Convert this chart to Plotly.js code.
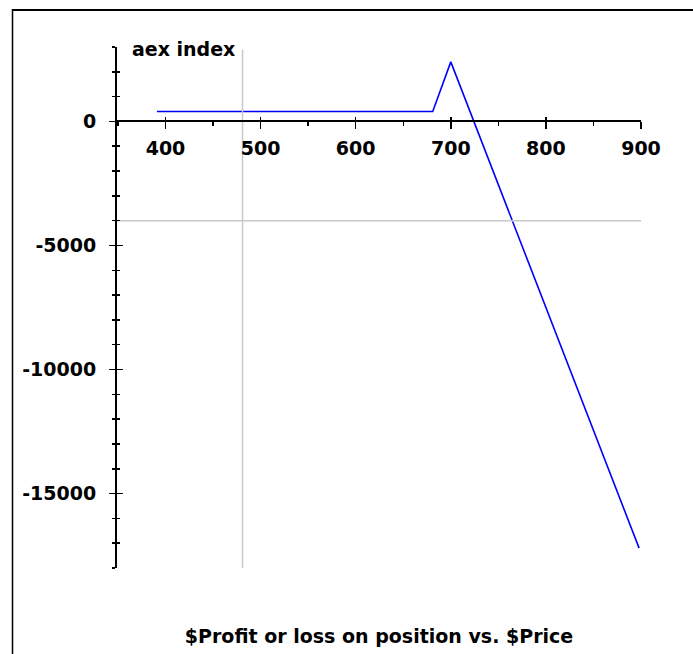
<!DOCTYPE html>
<html>
<head>
<meta charset="utf-8">
<script src="https://cdn.plot.ly/plotly-3.0.1.min.js"></script>
<style>
  html, body { margin: 0; padding: 0; background: #ffffff; }
  #chart { width: 693px; height: 654px; }
</style>
</head>
<body>
<div id="chart"></div>
<script>
// ---- data ----
const priceX = [391, 681, 700, 898];          // $Price
const pnlY   = [400, 400, 2400, -17200];      // $Profit or loss on position
const xTickVals = [400, 500, 600, 700, 800, 900];
const xTickText = ['400', '500', '600', '700', '800', '900'];
const yTickVals = [0, -5000, -10000, -15000];
const yTickText = ['0', '-5000', '-10000', '-15000'];
const xRange = [349, 900];
const yRange = [-18000, 3000];
const crossX = 481;      // vertical grey cursor line
const crossY = -4000;    // horizontal grey cursor line
const crossVTop = 2900;
const yLabel = 'aex index';
const chartTitle = '$Profit or loss on position vs. $Price';

// ---- layout constants ----
const W = 693, H = 654;
const M = {l: 117, r: 52, t: 47, b: 86, pad: 0};
const plotW = W - M.l - M.r, plotH = H - M.t - M.b;
const px2paperX = px => (px - M.l) / plotW;
const px2paperY = py => (H - M.b - py) / plotH;
const font = {family: 'DejaVu Sans, Arial, sans-serif', size: 19, color: '#000', weight: 'bold'};
const xAxisPos = (0 - yRange[0]) / (yRange[1] - yRange[0]);

const traces = [
  {x: [crossX, crossX], y: [yRange[0], crossVTop], type: 'scatter', mode: 'lines',
   line: {color: '#c8c8c8', width: 1.5}, hoverinfo: 'skip', xaxis: 'x2', yaxis: 'y2'},
  {x: [xRange[0], xRange[1]], y: [crossY, crossY], type: 'scatter', mode: 'lines',
   line: {color: '#c8c8c8', width: 1.5}, hoverinfo: 'skip', xaxis: 'x2', yaxis: 'y2'},
  {x: priceX, y: pnlY, type: 'scatter', mode: 'lines',
   line: {color: '#0000ff', width: 1.6}, hoverinfo: 'skip', xaxis: 'x', yaxis: 'y'}
];

const layout = {
  width: W, height: H, margin: M,
  paper_bgcolor: '#ffffff', plot_bgcolor: 'rgba(0,0,0,0)',
  showlegend: false, font: font,
  title: {text: chartTitle, font: font, x: 0.5, xref: 'paper', xanchor: 'center',
          y: 1 - 636 / H, yref: 'container', yanchor: 'middle'},
  xaxis: {range: xRange, anchor: 'free', position: xAxisPos, showgrid: false, zeroline: false,
          showline: true, linecolor: '#000', linewidth: 2,
          tickmode: 'array', tickvals: xTickVals, ticktext: xTickText,
          ticks: 'outside', ticklen: 7, tickwidth: 1.5, tickcolor: '#000',
          minor: {ticks: 'outside', ticklen: 4, tickwidth: 1.5, tickcolor: '#000', dtick: 50, tick0: 0, showgrid: false},
          tickfont: font, ticklabelstandoff: 3, fixedrange: true},
  xaxis2: {range: xRange, overlaying: 'x', anchor: 'free', position: xAxisPos, showgrid: false, zeroline: false,
          showline: false, tickmode: 'array', tickvals: xTickVals, ticks: 'inside', ticklen: 4, tickwidth: 1.5,
          tickcolor: '#000', showticklabels: false, fixedrange: true},
  yaxis: {range: yRange, showgrid: false, zeroline: false, showline: true, linecolor: '#000', linewidth: 2,
          tickmode: 'array', tickvals: yTickVals, ticktext: yTickText,
          ticks: 'outside', ticklen: 6, tickwidth: 1.5, tickcolor: '#000',
          minor: {ticks: 'outside', ticklen: 3, tickwidth: 1.5, tickcolor: '#000', dtick: 1000, tick0: 0, showgrid: false},
          tickfont: font, ticklabelstandoff: 9, fixedrange: true},
  yaxis2: {range: yRange, overlaying: 'y', anchor: 'x', side: 'left', showgrid: false, zeroline: false,
          showline: false, tickmode: 'array', tickvals: yTickVals, ticks: 'inside', ticklen: 6, tickwidth: 1.5,
          tickcolor: '#000',
          minor: {ticks: 'inside', ticklen: 3, tickwidth: 1.5, tickcolor: '#000', dtick: 1000, tick0: 0, showgrid: false},
          showticklabels: false, fixedrange: true},
  annotations: [
    {text: yLabel, xref: 'paper', yref: 'paper', x: px2paperX(130), y: px2paperY(49),
     xanchor: 'left', yanchor: 'middle', showarrow: false, font: font}
  ],
  shapes: [
    {type: 'line', xref: 'paper', yref: 'paper', x0: px2paperX(12), x1: px2paperX(W + 5),
     y0: px2paperY(10), y1: px2paperY(10), line: {color: '#000', width: 2}},
    {type: 'line', xref: 'paper', yref: 'paper', x0: px2paperX(12.5), x1: px2paperX(12.5),
     y0: px2paperY(9), y1: px2paperY(H + 5), line: {color: '#000', width: 1.5}}
  ]
};

Plotly.newPlot('chart', traces, layout, {staticPlot: true, displayModeBar: false});
</script>
</body>
</html>
